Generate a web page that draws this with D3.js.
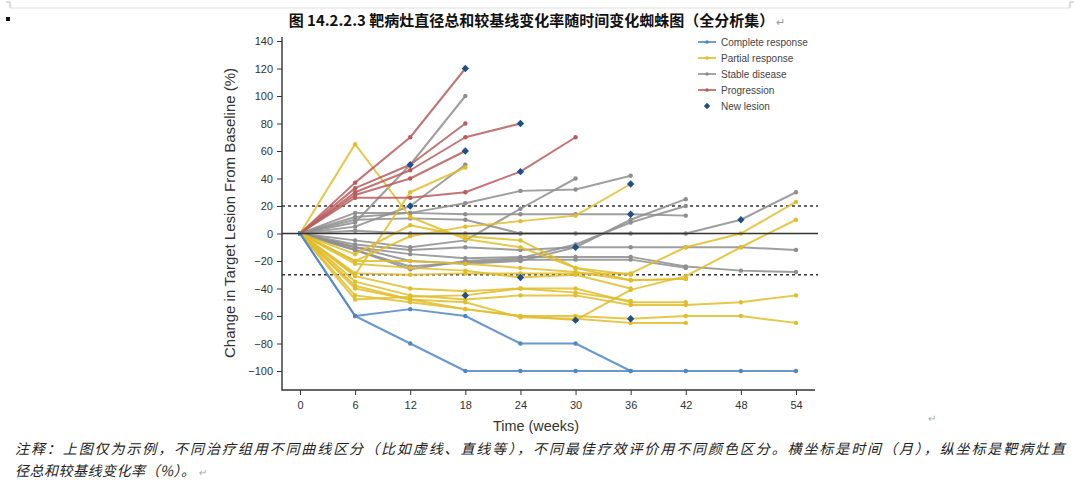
<!DOCTYPE html>
<html><head><meta charset="utf-8">
<script src="https://cdn.jsdelivr.net/npm/d3@7/dist/d3.min.js"></script>
<style>
html,body{margin:0;padding:0;background:#fff;}
svg{display:block;}
</style></head>
<body>
<svg id="chart" width="1080" height="490"></svg>
<script>
// ---------------- DATA ----------------
const weeks = [0, 6, 12, 18, 24, 30, 36, 42, 48, 54];
const yTicks = [140, 120, 100, 80, 60, 40, 20, 0, -20, -40, -60, -80, -100];
const legendLabels = ["Complete response", "Partial response", "Stable disease", "Progression", "New lesion"];
const thresholds = [20, -30];

// each series = % change at weeks[0], weeks[1], ...
const completeResponse = [
  [0, -60, -55, -60, -80, -80, -100],
  [0, -60, -80, -100, -100, -100, -100, -100, -100, -100]
];
const partialResponse = [
  [0, 65, 12, -4, -10, -25, -34, -33],
  [0, -30, 30, 48],
  [0, -20, -2, 5, 9, 13, 36],
  [0, -29, -30, -29, -29, -29, -29, -10, 0, 23],
  [0, -40, -48, -55, -60, -63, -41, -31, -10, 10],
  [0, -35, -45, -48, -45, -45, -52, -52, -50, -45],
  [0, -45, -50, -55, -60, -60, -62, -60, -60, -65],
  [0, -38, -48, -50, -61, -62, -65, -65],
  [0, -31, -40, -42, -40, -40, -50, -50],
  [0, -20, -20, -22, -25, -28, -34, -33],
  [0, -22, -25, -27, -32, -30, -40],
  [0, -15, 6, -2, -5, -25, -30],
  [0, -48, -46, -45, -40, -43, -49]
];
const stableDisease = [
  [0, 8, 50, 100],
  [0, 5, 20, 50],
  [0, 12, 15, 22, 31, 32, 42],
  [0, 15, 15, 14, 14, 14, 14, 13],
  [0, -5, -10, -5, 18, 40],
  [0, 2, 0, 0, 0, 0, 0, 0, 10, 30],
  [0, -10, -20, -22, -20, -10, 10, 25],
  [0, -12, -26, -20, -18, -8, 8, 20],
  [0, -8, -12, -10, -12, -10, -10, -10, -10, -12],
  [0, -10, -15, -18, -17, -17, -17, -24, -27, -28],
  [0, -12, -24, -21, -19, -19, -19, -25],
  [0, 10, 11, 10, 0]
];
const progression = [
  [0, 37, 70, 120],
  [0, 33, 50, 80],
  [0, 30, 46, 70, 80],
  [0, 28, 40, 60],
  [0, 26, 26, 30, 45, 70]
];
// new lesion markers: [week, % change]
const newLesion = [
  [18, 120], [12, 50], [24, 80], [18, 60], [24, 45],
  [12, 20], [36, 14], [48, 10], [30, -10],
  [36, 36], [30, -63], [36, -62], [24, -32], [18, -45]
];

// ---------------- STYLE ----------------
const colors = {cr: "#4f86c6", pr: "#e0bd2c", sd: "#8e8e8e", pd: "#b85c5c", nl: "#1f4f8a"};

const svg = d3.select("#chart");
const x = d3.scaleLinear().domain([0, 54]).range([300, 796]);
const y = d3.scaleLinear().domain([-100, 140]).range([371, 41]);
const axisLeftX = 282, axisBottomY = 390, plotRight = 818;

// page decoration (document margin marks)
svg.append("path").attr("d", "M6,2 H10 V8 M1074,2 H1070 V8").attr("fill", "none").attr("stroke", "#bbb");
svg.append("line").attr("x1", 10).attr("x2", 1070).attr("y1", 8).attr("y2", 8).attr("stroke", "#ddd");
svg.append("rect").attr("x", 6).attr("y", 17).attr("width", 4).attr("height", 4).attr("fill", "#111");

// title
const title = svg.append("text").attr("x", 537).attr("y", 26).attr("text-anchor", "middle")
  .attr("font-family", "'Noto Sans CJK SC', sans-serif").attr("font-weight", "bold")
  .attr("font-size", 15).attr("fill", "#111");
title.append("tspan").text("图 14.2.2.3  靶病灶直径总和较基线变化率随时间变化蜘蛛图（全分析集）");
title.append("tspan").attr("fill", "#999").attr("font-weight", "normal").attr("font-size", 11).attr("dx", 2).text("↵");

// threshold dashed lines
svg.selectAll("line.thr").data(thresholds).join("line").attr("class", "thr")
  .attr("x1", axisLeftX).attr("x2", plotRight).attr("y1", d => y(d)).attr("y2", d => y(d))
  .attr("stroke", "#333").attr("stroke-width", 1.6).attr("stroke-dasharray", "3,3");

const line = d3.line().x((d, i) => x(weeks[i])).y(d => y(d));

function drawGroup(data, color) {
  const g = svg.append("g");
  data.forEach(s => {
    g.append("path").attr("d", line(s)).attr("fill", "none").attr("stroke", color)
      .attr("stroke-width", 2).attr("stroke-opacity", 0.85).attr("stroke-linejoin", "round");
    g.selectAll(null).data(s).join("circle")
      .attr("cx", (d, i) => x(weeks[i])).attr("cy", d => y(d)).attr("r", 2.2)
      .attr("fill", color);
  });
}
drawGroup(stableDisease, colors.sd);
drawGroup(partialResponse, colors.pr);
drawGroup(progression, colors.pd);
drawGroup(completeResponse, colors.cr);

// zero line
svg.append("line").attr("x1", axisLeftX).attr("x2", plotRight).attr("y1", y(0)).attr("y2", y(0))
  .attr("stroke", "#333").attr("stroke-width", 1.6);

// new lesion diamonds
const diamond = d3.symbol().type(d3.symbolDiamond2).size(34);
svg.selectAll("path.nl").data(newLesion).join("path").attr("class", "nl")
  .attr("d", diamond).attr("transform", d => `translate(${x(d[0])},${y(d[1])})`)
  .attr("fill", colors.nl);

// axes
const axisFont = "'Liberation Sans', Arial, sans-serif";
const yAxis = svg.append("g").attr("transform", `translate(${axisLeftX},0)`)
  .call(d3.axisLeft(y).tickValues(yTicks).tickSize(5).tickPadding(4).tickFormat(d => d < 0 ? "\u2212" + Math.abs(d) : d));
yAxis.select(".domain").remove();
yAxis.selectAll("line").attr("stroke", "#333");
yAxis.selectAll("text").attr("font-family", axisFont).attr("font-size", 11).attr("fill", "#333");

const xAxis = svg.append("g").attr("transform", `translate(0,${axisBottomY})`)
  .call(d3.axisBottom(x).tickValues(weeks).tickSize(5).tickPadding(6));
xAxis.select(".domain").remove();
xAxis.selectAll("line").attr("stroke", "#333");
xAxis.selectAll("text").attr("font-family", axisFont).attr("font-size", 11).attr("fill", "#333");

svg.append("path").attr("d", `M${axisLeftX},37 V${axisBottomY} H815`).attr("fill", "none")
  .attr("stroke", "#333").attr("stroke-width", 1.4);

// axis titles
svg.append("text").attr("transform", `translate(235,${213}) rotate(-90)`).attr("text-anchor", "middle")
  .attr("font-family", axisFont).attr("font-size", 14.5).attr("fill", "#333")
  .attr("textLength", 290).attr("lengthAdjust", "spacingAndGlyphs")
  .text("Change in Target Lesion From Baseline (%)");
svg.append("text").attr("x", 536).attr("y", 431).attr("text-anchor", "middle")
  .attr("font-family", axisFont).attr("font-size", 14.5).attr("fill", "#333")
  .attr("textLength", 86).attr("lengthAdjust", "spacingAndGlyphs")
  .text("Time (weeks)");
svg.append("text").attr("x", 928).attr("y", 422).attr("font-size", 10).attr("fill", "#aaa").text("↵");

// legend
const lg = svg.append("g");
const legendColors = [colors.cr, colors.pr, colors.sd, colors.pd];
legendLabels.forEach((lab, i) => {
  const ly = 42 + i * 16;
  if (i < 4) {
    lg.append("line").attr("x1", 698).attr("x2", 716).attr("y1", ly).attr("y2", ly)
      .attr("stroke", legendColors[i]).attr("stroke-width", 1.6);
    lg.append("circle").attr("cx", 707).attr("cy", ly).attr("r", 1.8).attr("fill", legendColors[i]);
  } else {
    lg.append("path").attr("d", d3.symbol().type(d3.symbolDiamond2).size(26))
      .attr("transform", `translate(707,${ly})`).attr("fill", colors.nl);
  }
  lg.append("text").attr("x", 721).attr("y", ly + 3.5).attr("font-family", axisFont)
    .attr("font-size", 10).attr("fill", "#444").text(lab);
});

// footnote
const noteFont = "'Noto Sans CJK SC', sans-serif";
svg.append("text").attr("x", 15).attr("y", 454).attr("font-family", noteFont).attr("font-size", 14)
  .attr("font-style", "italic").attr("fill", "#222")
  .attr("textLength", 1050).attr("lengthAdjust", "spacing")
  .text("注释：上图仅为示例，不同治疗组用不同曲线区分（比如虚线、直线等），不同最佳疗效评价用不同颜色区分。横坐标是时间（月），纵坐标是靶病灶直");
const n2 = svg.append("text").attr("x", 15).attr("y", 476).attr("font-family", noteFont).attr("font-size", 14)
  .attr("font-style", "italic").attr("fill", "#222");
n2.append("tspan").attr("textLength", 180).attr("lengthAdjust", "spacing").text("径总和较基线变化率（%）。");
n2.append("tspan").attr("fill", "#aaa").attr("font-size", 10).attr("dx", 2).text("↵");
</script>
</body></html>
